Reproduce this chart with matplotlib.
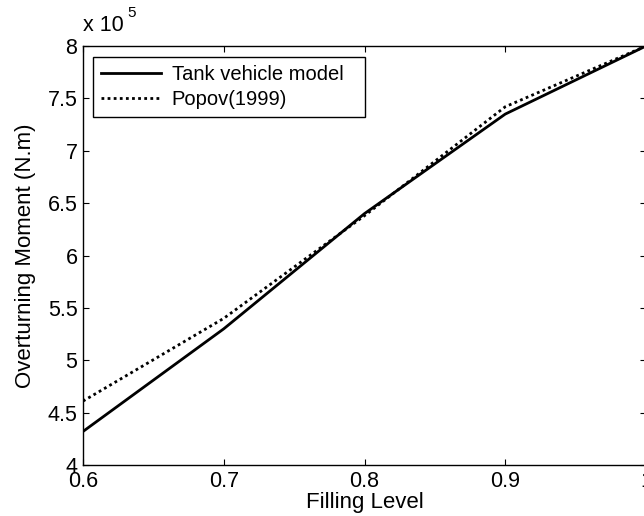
import matplotlib
matplotlib.use('Agg')
import matplotlib.pyplot as plt
import numpy as np

plt.rcParams['font.family'] = ['Liberation Sans', 'DejaVu Sans']

filling = [0.6, 0.7, 0.8, 0.9, 1.0]
tank_model = [4.32e5, 5.30e5, 6.40e5, 7.35e5, 8.00e5]
popov_1999 = [4.61e5, 5.40e5, 6.38e5, 7.42e5, 8.00e5]
xticks = [0.6, 0.7, 0.8, 0.9, 1.0]
xticklabels = ['0.6', '0.7', '0.8', '0.9', '1']
yticks = [4, 4.5, 5, 5.5, 6, 6.5, 7, 7.5, 8]
yticklabels = ['4', '4.5', '5', '5.5', '6', '6.5', '7', '7.5', '8']

scale = 1e5

fig = plt.figure(figsize=(6.44, 5.16), dpi=100)
ax = fig.add_axes([83/644, 1 - 465/516, 563/644, 419/516])

ax.plot(filling, np.array(tank_model)/scale, color='black', lw=2.0, ls='-',
        label='Tank vehicle model')
ax.plot(filling, np.array(popov_1999)/scale, color='black', lw=2.0, ls=(0, (1, 1.2)),
        label='Popov(1999)')

ax.set_xlim(0.6, 1.0)
ax.set_ylim(4, 8)
ax.set_xticks(xticks)
ax.set_xticklabels(xticklabels)
ax.set_yticks(yticks)
ax.set_yticklabels(yticklabels)
ax.tick_params(direction='in', top=True, right=True, length=4, width=0.8,
               labelsize=15.5, pad=4)
ax.tick_params(axis='x', pad=4)
for s in ax.spines.values():
    s.set_linewidth(1.0)

ax.set_xlabel('Filling Level', fontsize=16, labelpad=0)
ax.set_ylabel('Overturning Moment (N.m)', fontsize=16, labelpad=8)

# MATLAB-style exponent label
ax.text(0.0, 1.025, 'x 10', transform=ax.transAxes, fontsize=15.5,
        ha='left', va='bottom')
ax.text(0.078, 1.063, '5', transform=ax.transAxes, fontsize=11,
        ha='left', va='bottom')

leg = ax.legend(loc='upper left', bbox_to_anchor=(10/563, 0.5, 272/563, 1 - 11/419 - 0.5),
                mode='expand', fontsize=14.5, frameon=True, fancybox=False,
                handlelength=3.0, handletextpad=0.5, borderaxespad=0,
                borderpad=0.4, labelspacing=0.3)
leg.get_frame().set_edgecolor('black')
leg.get_frame().set_linewidth(1.0)
leg.get_frame().set_alpha(1)

fig.savefig('out.png', dpi=100)
